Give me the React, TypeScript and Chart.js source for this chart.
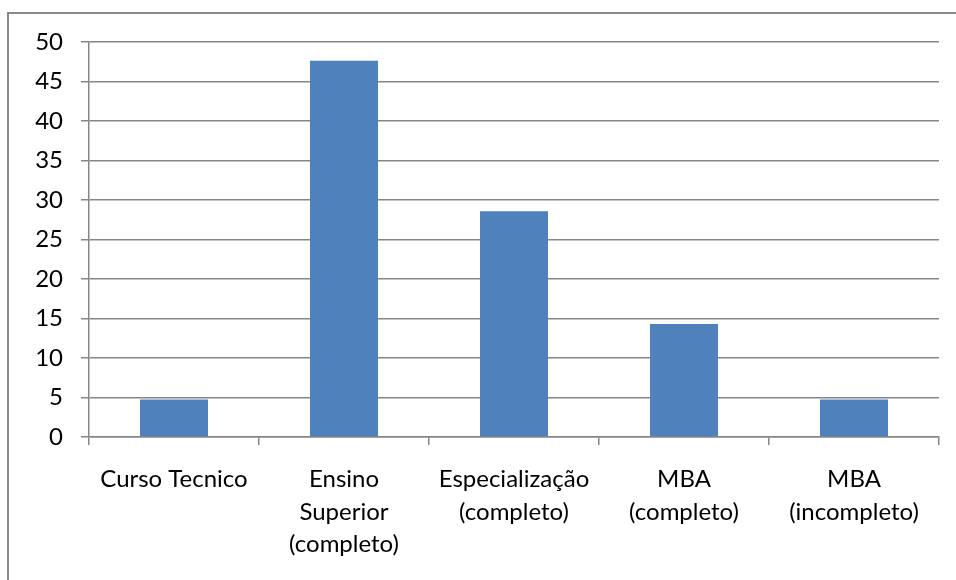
import React, { useEffect, useRef } from "react";
import { Chart, registerables } from "chart.js";

Chart.register(...registerables);

// Formação dos respondentes (%)
const categories: (string | string[])[] = [
  "Curso Tecnico",
  ["Ensino", "Superior", "(completo)"],
  ["Especialização", "(completo)"],
  ["MBA", "(completo)"],
  ["MBA", "(incompleto)"],
];
const percentages = [4.76, 47.62, 28.57, 14.29, 4.76];
const yMin = 0;
const yMax = 50;
const yStep = 5;

const FONT = "Lato, 'Liberation Sans', sans-serif";
const AXIS_GRAY = "#868686";

export default function App() {
  const canvasRef = useRef<HTMLCanvasElement | null>(null);

  useEffect(() => {
    const canvas = canvasRef.current;
    if (!canvas) return;
    const chart = new Chart(canvas, {
      type: "bar",
      data: {
        labels: categories,
        datasets: [
          {
            data: percentages,
            backgroundColor: "#4F81BD",
            borderWidth: 0,
            barPercentage: 0.4,
            categoryPercentage: 1,
          },
        ],
      },
      options: {
        animation: false,
        responsive: false,
        maintainAspectRatio: false,
        layout: { padding: { left: 0, top: 42, right: 17, bottom: 0 } },
        plugins: {
          legend: { display: false },
          tooltip: { enabled: false },
        },
        scales: {
          x: {
            offset: true,
            grid: {
              offset: true,
              drawOnChartArea: false,
              drawTicks: true,
              tickLength: 8,
              color: AXIS_GRAY,
              lineWidth: 1.5,
            },
            border: { color: AXIS_GRAY, width: 1.5 },
            ticks: {
              color: "#000",
              font: { family: FONT, size: 24, lineHeight: 1.36 },
              padding: 18,
              maxRotation: 0,
              autoSkip: false,
            },
            afterFit: (scale: any) => {
              scale.height = 143;
            },
          },
          y: {
            min: yMin,
            max: yMax,
            grid: {
              color: AXIS_GRAY,
              lineWidth: 1.5,
              drawTicks: true,
              tickLength: 8,
            },
            border: { color: AXIS_GRAY, width: 1.5 },
            ticks: {
              stepSize: yStep,
              color: "#000",
              font: { family: FONT, size: 24 },
              padding: 18,
            },
            afterFit: (scale: any) => {
              scale.width = 89;
            },
          },
        },
      },
    });
    return () => chart.destroy();
  }, []);

  return (
    <>
      <div
        style={{
          position: "fixed",
          left: 7,
          top: 12,
          right: -20,
          bottom: -20,
          border: "2px solid #898989",
          background: "#fff",
        }}
      />
      <canvas
        ref={canvasRef}
        width={956}
        height={580}
        style={{ position: "fixed", left: 0, top: 0, width: 956, height: 580 }}
      />
    </>
  );
}
